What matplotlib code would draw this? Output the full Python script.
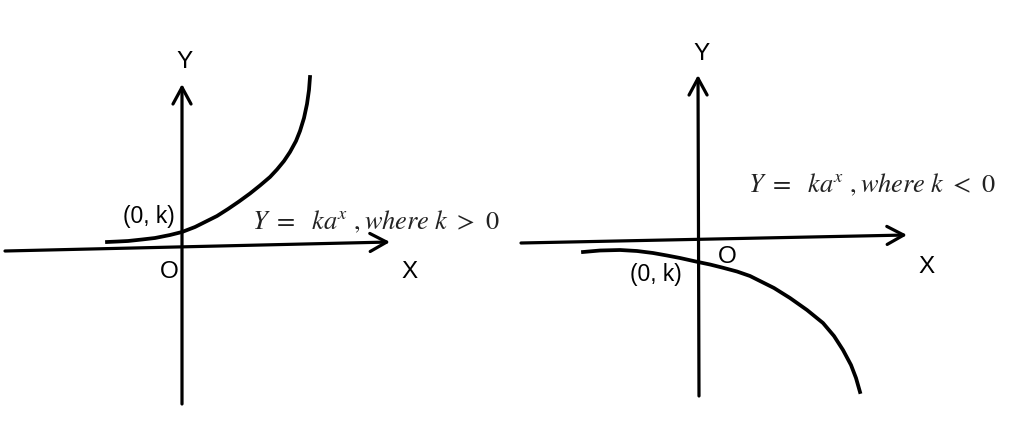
import matplotlib
matplotlib.use('Agg')
import matplotlib.pyplot as plt

plt.rcParams['mathtext.fontset'] = 'stix'

# everything below is in picture pixels (x right, y down)

# left diagram, k > 0
xaxis_left = [(5, 251), (390, 242)]
yaxis_left = [(182, 404), (182, 84)]
curve_left_x = [107, 118, 128, 142, 155, 170, 182, 195, 205, 217, 228, 239,
                250, 260, 270, 277, 284, 290, 296, 300, 304, 307, 309, 310]
curve_left_y = [242, 241.5, 241, 239.5, 238, 235, 232, 227, 222, 216, 209, 201.5,
                193.5, 185.5, 177, 169.5, 161, 152, 141, 131, 118, 104, 90, 77]

# right diagram, k < 0
xaxis_right = [(521, 243), (907, 235)]
yaxis_right = [(699, 396), (698, 75)]
curve_right_x = [583, 600, 620, 637, 653, 667, 680, 698, 710, 722, 737, 750,
                 757, 774, 790, 807, 823, 834, 843, 851, 856, 860]
curve_right_y = [252, 250.5, 250, 251, 253, 255.5, 258, 262, 264.5, 267.5, 271.5, 276,
                 279.5, 288, 298, 310, 323, 336, 350, 365, 378, 392]

# labels: (text, x, y)
labels = [('Y', 185, 62), ('X', 410, 272), ('O', 169, 272), ('(0, k)', 149, 217),
          ('Y', 702, 54), ('X', 927, 267), ('O', 727, 257), ('(0, k)', 656, 275)]
formulas = [(r'$Y\ =\ \ ka^{x}\ ,where\ k\ >\ 0$', 252, 229),
            (r'$Y\ =\ \ ka^{x}\ ,where\ k\ <\ 0$', 748, 192)]

fig = plt.figure(figsize=(10.11, 4.30), dpi=100)
ax = fig.add_axes([0, 0, 1, 1])
ax.set_xlim(0, 1011)
ax.set_ylim(430, 0)
ax.axis('off')

arrow = dict(arrowstyle='->,head_length=1.2,head_width=0.65', lw=2.3,
             color='black', shrinkA=0, shrinkB=0, mutation_scale=10)
for seg in [xaxis_left, yaxis_left, xaxis_right, yaxis_right]:
    ax.annotate('', xy=seg[1], xytext=seg[0], arrowprops=arrow)

ax.plot(curve_left_x, curve_left_y, color='black', lw=2.7, solid_joinstyle='round')
ax.plot(curve_right_x, curve_right_y, color='black', lw=2.7, solid_joinstyle='round')

for txt, x, y in labels:
    size = 16.5 if txt.startswith('(') else 17.5
    ax.text(x, y, txt, ha='center', va='center', fontsize=size,
            family='Liberation Sans', color='black')

for txt, x, y in formulas:
    ax.text(x, y, txt, ha='left', va='baseline', fontsize=19, color='#222222')

fig.savefig('out.png', dpi=100)
